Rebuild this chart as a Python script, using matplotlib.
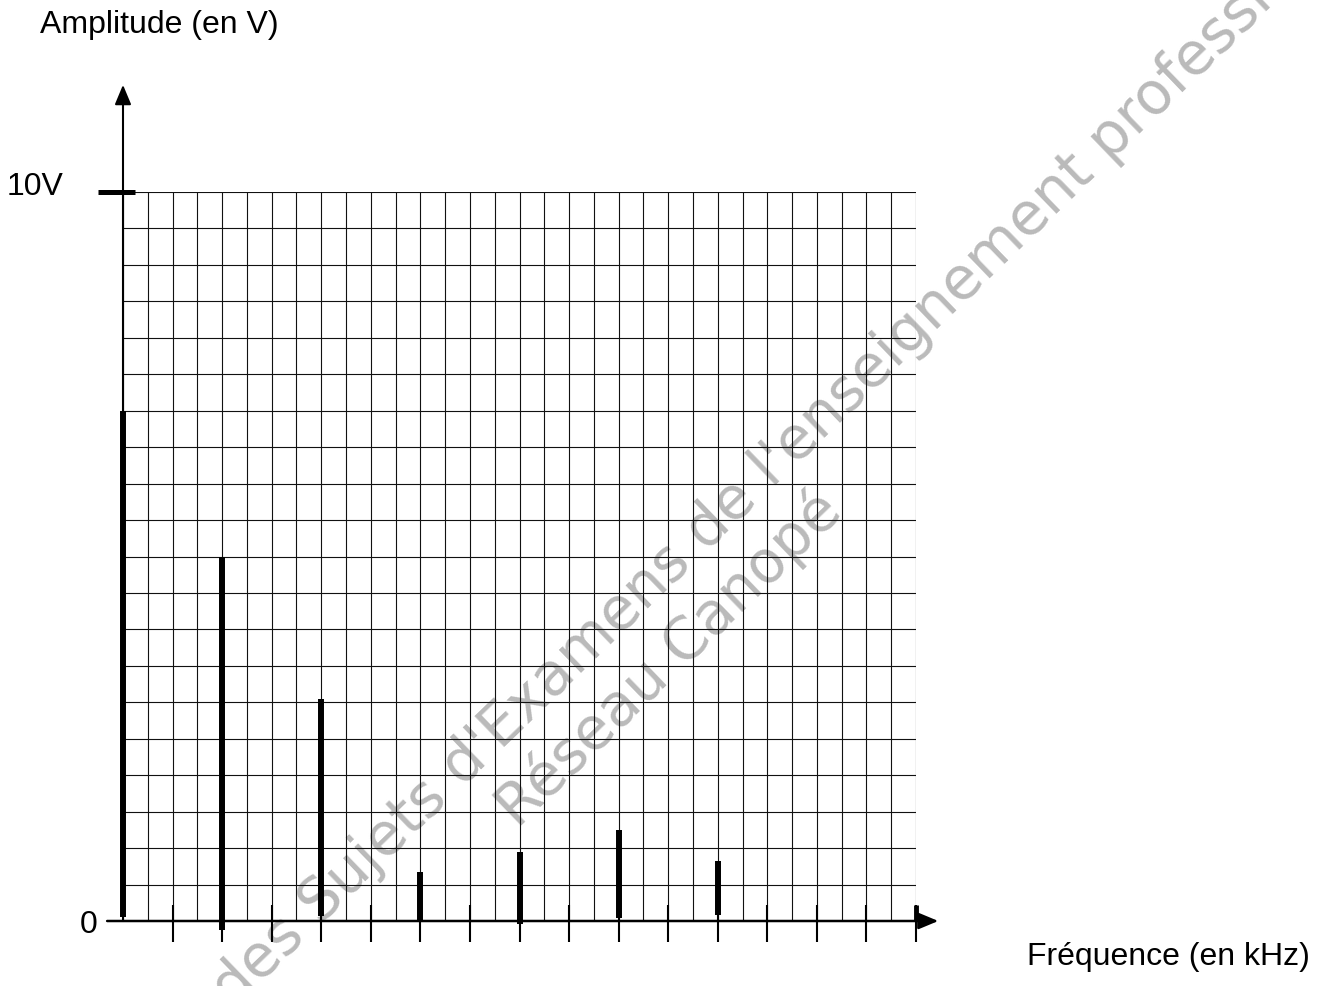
import numpy as np
import matplotlib.pyplot as plt

plt.rcParams['font.family'] = ['Liberation Sans', 'DejaVu Sans']

# spectre : raies (position en graduations de l'axe, amplitude en V)
freqs = [0, 2, 4, 6, 8, 10, 12]
amplitudes = [7.0, 5.0, 3.04, 0.67, 0.95, 1.25, 0.82]
bases = [0.05, -0.12, 0.07, 0.0, -0.04, 0.04, 0.08]   # bas des traits, pas toujours pile sur 0

y_label = "Amplitude (en V)"
x_label = "Fréquence (en kHz)"
y_max_label = "10V"
y_zero_label = "0"
watermark1 = "Base Nationale des Sujets d'Examens de l'enseignement professionnel"
watermark2 = "Réseau Canopé"

W, H = 1328, 986
fig = plt.figure(figsize=(W / 100, H / 100), dpi=100)

# zone quadrillée
left, right = 123 / W, 916 / W
bottom, top = 1 - 921 / H, 1 - 192 / H
ax = fig.add_axes([left, bottom, right - left, top - bottom])
ax.set_xlim(0, 16)
ax.set_ylim(0, 10)
ax.axis('off')
ax.patch.set_alpha(0)

# filigrane sous la grille
wm = dict(transform=fig.transFigure, color='#bababa', fontsize=42, rotation=44,
          rotation_mode='anchor', ha='center', va='center', family='DejaVu Sans',
          fontweight='normal', zorder=0.5, clip_on=False)
ax.text(635 / W, 1 - 598 / H, watermark1, **wm)
ax.text(669 / W, 1 - 659 / H, watermark2, **wm)

# quadrillage
ax.vlines(np.arange(0, 16.01, 0.5), 0, 10, color='#111111', lw=0.8, zorder=1)
ax.hlines(np.arange(0, 10.01, 0.5), 0, 16, color='#111111', lw=0.8, zorder=1)

# axes avec flèches
ax.annotate('', xy=(0, 11.47), xytext=(0, 0), annotation_clip=False,
            arrowprops=dict(arrowstyle='-|>,head_length=1.2,head_width=0.5', lw=1.5,
                            color='k', shrinkA=0, shrinkB=0, mutation_scale=10), zorder=3)
ax.annotate('', xy=(16.45, 0), xytext=(-0.32, 0), annotation_clip=False,
            arrowprops=dict(arrowstyle='-|>,head_length=1.2,head_width=0.5', lw=1.8,
                            color='k', shrinkA=0, shrinkB=0, mutation_scale=10), zorder=3)

# graduations sous l'axe des fréquences
ax.vlines(np.arange(1, 17), -0.29, 0.22, color='k', lw=1.5, zorder=3, clip_on=False)
ax.vlines(16, 0, 0.22, color='k', lw=3.5, zorder=3, clip_on=False)

# repère 10V
ax.hlines(10, -0.5, 0.24, color='k', lw=3.6, zorder=4, clip_on=False)

# raies du spectre
ax.vlines(freqs, bases, amplitudes, color='k', lw=4.3, capstyle='butt', zorder=5, clip_on=False)

# textes
fs = 23
fig.text(40 / W, 1 - 33 / H, y_label, fontsize=fs, ha='left', va='baseline')
fig.text(7 / W, 1 - 195 / H, y_max_label, fontsize=fs, ha='left', va='baseline')
fig.text(80 / W, 1 - 933 / H, y_zero_label, fontsize=fs, ha='left', va='baseline')
fig.text(1027 / W, 1 - 965 / H, x_label, fontsize=fs, ha='left', va='baseline')

fig.savefig('out.png', dpi=100, facecolor='white')
